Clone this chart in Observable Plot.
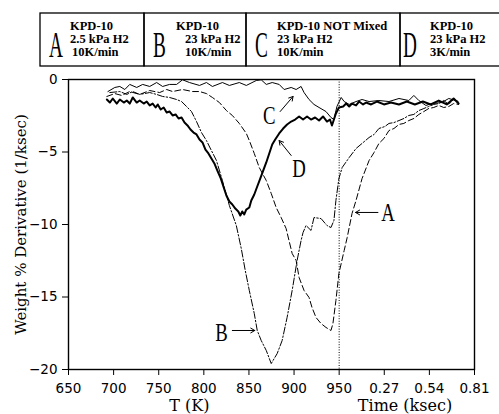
<!DOCTYPE html>
<html><head><meta charset="utf-8">
<script src="https://cdn.jsdelivr.net/npm/d3@7"></script>
<script src="https://cdn.jsdelivr.net/npm/@observablehq/plot@0.6"></script>
<style>
html,body{margin:0;padding:0;background:#fff;overflow:hidden;}
#chart{width:499px;height:414px;}
svg{display:block}
</style></head><body><div id="chart"></div>
<script>
// ---- axis ticks ----
const tempTicks = [650, 700, 750, 800, 850, 900, 950];     // T (K)
const timeTicks = [0.27, 0.54, 0.81];                        // Time (ksec)
const yTicks = [0, -5, -10, -15, -20];

// ---- legend ----
const legendLetters = ["A", "B", "C", "D"];
const legendLines = [
  ["KPD-10", "2.5 kPa H2", "10K/min"],
  ["KPD-10", "23 kPa H2", "10K/min"],
  ["KPD-10 NOT Mixed", "23 kPa H2", "10K/min"],
  ["KPD-10", "23 kPa H2", "3K/min"]
];

// ---- curve A (2.5 kPa H2, 10K/min) ----
const aTemp = [692.5,701.3,709,717.9,728.9,740,751,758.8,765.4,776.4,787.5,795.2,802.9,809.5,817.3,825,831.6,839.3,847.1,850.4,855.9,861.4,869.2,874.7,880.2,885.7,891.2,897.9,902.3,905.6,911.1,916.6,919.9,924.3,929.9,935.4,940.9,943.1,946.4,949.7];
const aTempVal = [-1.17,-0.97,-1.10,-0.83,-1.03,-0.76,-0.90,-0.69,-0.83,-0.69,-0.83,-0.83,-0.97,-1.24,-1.59,-2.14,-2.48,-3.03,-3.72,-4.21,-5.10,-6.07,-6.97,-7.86,-8.83,-9.52,-10.28,-12.0,-12.48,-13.66,-14.55,-15.03,-15.72,-16.41,-16.83,-17.10,-17.31,-16.83,-15.24,-13.38];
const aTime = [0.030,0.048,0.077,0.101,0.137,0.179,0.209,0.238,0.268,0.298,0.328,0.358,0.387,0.417,0.447,0.477,0.507,0.536,0.566,0.596,0.626,0.656,0.685,0.715];
const aTimeVal = [-11.79,-10.90,-9.24,-8.34,-6.83,-5.59,-5.03,-4.41,-4.07,-3.52,-3.38,-3.10,-3.03,-2.83,-2.69,-2.41,-2.21,-2.0,-1.93,-1.79,-1.93,-1.86,-1.66,-1.72];

// ---- curve B (23 kPa H2, 10K/min) ----
const bTemp = [695.8,706.9,714.6,721.2,728.9,740,747.7,754.3,762.1,769.8,775.3,780.8,786.3,791.9,797.4,802.9,808.4,814,820.6,828.3,836,841.5,845.9,850.4,855.9,859.2,863.6,869.2,874.7,881.3,886.8,892.3,897.9,903.4,907.8,910,913.3,918.8,922.1,929.9,936.5,940.9,944.2,946.4,949.7];
const bTempVal = [-0.90,-0.83,-1.03,-0.83,-1.03,-0.90,-1.03,-1.17,-1.24,-1.38,-1.52,-1.86,-2.21,-2.90,-3.66,-4.21,-4.90,-5.59,-6.97,-8.69,-10.07,-11.66,-13.17,-14.55,-16.14,-17.31,-18.0,-18.69,-19.59,-18.90,-18.0,-16.41,-14.55,-12.48,-11.10,-10.55,-10.07,-10.41,-9.52,-9.59,-10.07,-10.21,-9.72,-8.34,-6.83];
const bTime = [0.018,0.060,0.101,0.137,0.179,0.209,0.238,0.274,0.298,0.328,0.358,0.387,0.417,0.447,0.477,0.507,0.536,0.566,0.596,0.626,0.656,0.685,0.715];
const bTimeVal = [-6.07,-5.38,-4.76,-4.41,-4.0,-3.79,-3.38,-3.24,-3.03,-2.97,-2.83,-2.69,-2.48,-2.41,-2.14,-2.0,-1.86,-1.72,-1.66,-1.45,-1.72,-1.38,-1.52];

// ---- curve C (NOT mixed, 23 kPa H2, 10K/min) ----
const cTemp = [693.7,701.3,706.9,712.4,717.9,725.6,732.2,740,747.7,754.3,762,769.8,776.4,784.1,795.2,802.9,809.5,820.6,828.3,839.3,847.1,858.1,863.6,869.2,875.8,883.5,889,896.8,902.3,907.8,911.1,916.6,922.1,927.7,935.4,940.9,944.2,947.5];
const cTempVal = [-0.83,-0.55,-0.48,-0.69,-0.34,-0.55,-0.34,-0.48,-0.21,-0.48,-0.34,-0.34,-0.02,-0.21,-0.41,-0.21,-0.48,-0.21,-0.41,-0.21,-0.41,-0.07,-0.02,-0.34,-0.21,-0.34,-0.69,-0.55,-0.69,-0.48,-0.9,-1.38,-1.72,-1.93,-2.21,-2.62,-2.76,-1.86];
const cTime = [0.012,0.030,0.060,0.101,0.137,0.179,0.238,0.298,0.358,0.417,0.447,0.477,0.519,0.554,0.614,0.656,0.697,0.715];
const cTimeVal = [-1.24,-1.52,-1.72,-1.52,-1.38,-1.52,-1.45,-1.52,-1.31,-1.45,-1.10,-1.45,-1.79,-1.66,-1.59,-1.31,-1.45,-1.66];

// ---- curve D (23 kPa H2, 3K/min) ----
const dTemp = [692.5,695.8,699.1,703.5,706.9,711.3,714.6,717.9,721.2,725.6,728.9,733.4,736.7,740,743.3,746.6,748.9,752.2,755.5,758.8,762.1,765.4,768.7,772,775.3,778.6,781.9,785.2,788.6,791.9,795.2,798.5,801.8,805.1,808.4,811.7,815,818.4,821.7,825,828.3,831.6,834.9,838.2,840.4,842.6,844.8,847,850.4,852.6,855.9,859.2,862.5,865.8,869.2,872.5,875.8,879.1,883.5,887.9,892.3,896.8,901.2,905.6,910,914.4,918.8,923.3,927.7,932.1,936.5,939.8,942,944.2,946.4,949.7];
const dTempVal = [-1.38,-1.59,-1.31,-1.66,-1.38,-1.59,-1.45,-1.66,-1.24,-1.59,-1.45,-1.66,-1.52,-1.79,-1.66,-1.93,-1.72,-2.07,-1.93,-2.28,-2.21,-2.48,-2.41,-2.69,-2.62,-2.97,-3.17,-3.45,-3.66,-3.79,-4.14,-4.34,-4.83,-5.10,-5.45,-5.79,-6.28,-6.76,-7.38,-8.0,-8.41,-8.62,-8.9,-9.1,-9.38,-9.1,-9.31,-8.97,-8.83,-8.34,-7.93,-7.38,-6.83,-6.28,-5.72,-5.10,-4.48,-4.14,-3.72,-3.38,-3.10,-2.90,-2.76,-2.55,-2.76,-2.55,-2.76,-2.62,-2.83,-2.55,-2.90,-2.76,-3.17,-2.76,-2.34,-1.93];
const dTime = [0.024,0.042,0.060,0.077,0.101,0.119,0.143,0.161,0.191,0.226,0.268,0.310,0.358,0.405,0.453,0.501,0.548,0.596,0.644,0.685,0.715];
const dTimeVal = [-1.86,-1.66,-1.86,-1.66,-1.79,-1.52,-1.72,-1.59,-1.72,-1.52,-1.72,-1.59,-1.72,-1.52,-1.72,-1.52,-1.72,-1.45,-1.72,-1.31,-1.66];

// split axis: T (K) up to 950, then time (ksec); 0.27 ksec occupies 50 K of axis
const pos = t => 950 + t / 0.27 * 50;

// ---- annotations ----
const labelNames = ["A", "B", "C", "D"];
const labelX = [pos(0.292), 819.5, 872.5, 905.6];
const labelY = [-9.24, -17.45, -2.55, -6.14];
const arrowX1 = [pos(0.232), 831.6, 884.6, 896.8];
const arrowY1 = [-9.17, -17.31, -2.21, -5.24];
const arrowX2 = [pos(0.098), 856.5, 898.9, 883.5];
const arrowY2 = [-9.17, -17.31, -1.17, -4.21];

function curve(temps, tv, times, timev) {
  return temps.map((x, i) => ({x, y: tv[i]}))
    .concat(times.map((t, i) => ({x: pos(t), y: timev[i]})));
}
const A = curve(aTemp, aTempVal, aTime, aTimeVal);
const B = curve(bTemp, bTempVal, bTime, bTimeVal);
const C = curve(cTemp, cTempVal, cTime, cTimeVal);
const D = curve(dTemp, dTempVal, dTime, dTimeVal);

const xTickPos = tempTicks.concat(timeTicks.map(pos));
const xFmt = d => d <= 950 ? String(d) : String(timeTicks[Math.round((d - 950) / 50) - 1]);

const labels = labelNames.map((n, i) => ({n, x: labelX[i], y: labelY[i]}));
const arrows = labelNames.map((n, i) => ({x1: arrowX1[i], y1: arrowY1[i], x2: arrowX2[i], y2: arrowY2[i]}));

// ---- legend (above the plot) ----
const leg = d3.create("svg").attr("width", 499).attr("height", 72);
const boxX = [40, 144, 246, 400], boxW = [104, 102, 154, 110];
const letterX = [49, 153, 255, 403];
const lineX = [[70, 70, 72], [176, 185, 185], [277, 277, 277], [430, 430, 430]];
const lineY = [30, 43, 56];
legendLetters.forEach((L, i) => {
  leg.append("rect").attr("x", boxX[i]).attr("y", 13).attr("width", boxW[i]).attr("height", 53)
    .attr("fill", "none").attr("stroke", "#000").attr("stroke-width", 1.3);
  leg.append("text").attr("transform", `translate(${letterX[i]},57) scale(0.55,1)`)
    .attr("font-family", "Liberation Serif").attr("font-size", 35).text(L);
  legendLines[i].forEach((s, j) => {
    leg.append("text").attr("x", lineX[i][j]).attr("y", lineY[j])
      .attr("font-family", "Liberation Serif").attr("font-weight", "bold")
      .attr("font-size", 12.5).text(s);
  });
});

const plot = Plot.plot({
  width: 499, height: 342,
  marginLeft: 68, marginRight: 25, marginTop: 7, marginBottom: 45,
  style: {fontFamily: "DejaVu Sans", fontSize: "13.5px", background: "#fff", color: "#000"},
  x: {domain: [650, 1100]},
  y: {domain: [-20, 0]},
  marks: [
    Plot.ruleX([950], {strokeDasharray: "1,1.6", strokeWidth: 1}),
    Plot.line(C, {x: "x", y: "y", stroke: "#000", strokeWidth: 1}),
    Plot.line(D, {x: "x", y: "y", stroke: "#000", strokeWidth: 2}),
    Plot.line(A, {x: "x", y: "y", stroke: "#000", strokeWidth: 1, strokeDasharray: "6,3"}),
    Plot.line(B, {x: "x", y: "y", stroke: "#000", strokeWidth: 1, strokeDasharray: "7,2,1.5,2"}),
    Plot.arrow(arrows, {x1: "x1", y1: "y1", x2: "x2", y2: "y2", stroke: "#000", strokeWidth: 1, headLength: 7}),
    Plot.text(labels, {x: "x", y: "y", text: "n", fontFamily: "Liberation Serif", fontSize: 25, lineAnchor: "middle", fill: "#000"}),
    Plot.axisX({ticks: xTickPos, tickFormat: xFmt, tickSize: 6, tickPadding: 8, label: null}),
    Plot.axisY({ticks: yTicks, tickSize: 6, tickPadding: 5, label: null}),
    Plot.frame({stroke: "#000", strokeWidth: 1.4}),
    Plot.text(["T (K)"], {x: [784], frameAnchor: "bottom", dy: 36, lineAnchor: "middle", fontFamily: "DejaVu Serif", fontSize: 16}),
    Plot.text(["Time (ksec)"], {x: [1023], frameAnchor: "bottom", dy: 36, lineAnchor: "middle", fontFamily: "DejaVu Serif", fontSize: 16}),
    Plot.text(["Weight % Derivative (1/ksec)"], {frameAnchor: "left", dx: -47, rotate: -90, textAnchor: "middle", lineAnchor: "middle", fontFamily: "DejaVu Serif", fontSize: 15})
  ]
});

// narrow the serif curve labels
d3.select(plot).selectAll("text").each(function() {
  const t = this.textContent;
  if (labelNames.includes(t)) {
    const tr = this.getAttribute("transform") || "";
    this.setAttribute("transform", tr + " scale(0.75,1)");
  }
});

const chart = document.getElementById("chart");
chart.appendChild(leg.node());
chart.appendChild(plot);
</script></body></html>
